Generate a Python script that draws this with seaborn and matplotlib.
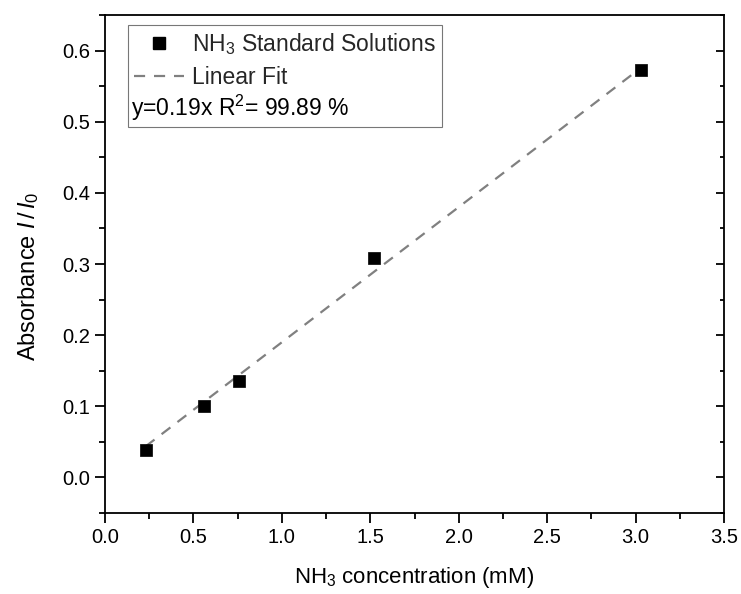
import matplotlib
matplotlib.use("Agg")
import matplotlib.pyplot as plt
import seaborn as sns
import numpy as np
import pandas as pd
from matplotlib.lines import Line2D
from matplotlib.ticker import MultipleLocator, FormatStrFormatter

conc = [0.23, 0.56, 0.76, 1.52, 3.03]
absorb = [0.038, 0.100, 0.135, 0.308, 0.573]
slope = 0.19
fit_x = [0.23, 3.03]
fit_y = [slope * v for v in fit_x]

sns.set_theme(style="white")
plt.rcParams['font.family'] = ['Liberation Sans', 'DejaVu Sans']
plt.rcParams['mathtext.fontset'] = 'custom'
plt.rcParams['mathtext.rm'] = 'Liberation Sans'
plt.rcParams['mathtext.it'] = 'Liberation Sans:italic'

fig = plt.figure(figsize=(7.41, 5.94), dpi=100)
ax = fig.add_axes([105/741, 1-513/594, (724-105)/741, (513-15)/594])

df = pd.DataFrame({"x": conc, "y": absorb})
fdf = pd.DataFrame({"x": fit_x, "y": fit_y})
sns.lineplot(data=fdf, x="x", y="y", ax=ax, color="#808080", lw=1.6,
             linestyle=(0, (5, 4)), zorder=2)
sns.scatterplot(data=df, x="x", y="y", ax=ax, marker="s", s=68, color="black",
                edgecolor="black", linewidth=0.5, zorder=3)

ax.set_xlim(0, 3.5)
ax.set_ylim(-0.05, 0.65)
ax.xaxis.set_major_locator(MultipleLocator(0.5))
ax.xaxis.set_minor_locator(MultipleLocator(0.25))
ax.set_yticks(np.arange(0, 0.61, 0.1))
ax.set_yticks(np.arange(-0.05, 0.66, 0.05), minor=True)
ax.yaxis.set_major_formatter(FormatStrFormatter('%.1f'))
ax.xaxis.set_major_formatter(FormatStrFormatter('%.1f'))

for s in ax.spines.values():
    s.set_color("black")
    s.set_linewidth(1.3)
ax.tick_params(which='both', direction='out', color='black', width=1.3,
               left=True, bottom=True, right=False, top=False, labelsize=14.5,
               labelcolor='black')
ax.tick_params(which='major', length=7)
ax.tick_params(which='minor', length=4.5)

# right-hand spine with inward ticks
ax2 = ax.twinx()
ax2.set_ylim(ax.get_ylim())
ax2.set_yticks(np.arange(0, 0.61, 0.1))
ax2.set_yticks(np.arange(-0.05, 0.66, 0.05), minor=True)
ax2.tick_params(which='both', direction='in', color='black', width=1.3,
                right=True, left=False, labelright=False, labelleft=False)
ax2.tick_params(which='major', length=6)
ax2.tick_params(which='minor', length=3)
for s in ax2.spines.values():
    s.set_visible(False)
ax2.grid(False)

ax.set_xlabel(r"NH$_3$ concentration (mM)", fontsize=16, color='black', labelpad=13)
ax.set_ylabel(r"Absorbance $\mathit{I\,/\,I_0}$", fontsize=17, color='black')
ax.yaxis.set_label_coords(-0.104, 0.475)

handles = [
    Line2D([], [], marker='s', color='black', linestyle='none', markersize=8.5),
    Line2D([], [], color='#808080', lw=1.6, linestyle=(0, (5, 4))),
    Line2D([], [], linestyle='none'),
]
labels = [r"NH$_3$ Standard Solutions", "Linear Fit", " "]
leg = ax.legend(handles, labels, loc='upper left',
                bbox_to_anchor=((128-105)/619, 1-(25-15)/498),
                borderaxespad=0, fontsize=16.5, frameon=True, fancybox=False,
                edgecolor='#555555', handlelength=2.2, handletextpad=0.35,
                labelspacing=0.4, borderpad=0.25)
leg.get_frame().set_linewidth(0.8)
ax.text((131-105)/619, 1-(108-15)/498, r"y=0.19x R$^2$= 99.89 %", transform=ax.transAxes,
        fontsize=16.5, va='center', ha='left', color='black', zorder=10)

fig.savefig("out.png", dpi=100)
